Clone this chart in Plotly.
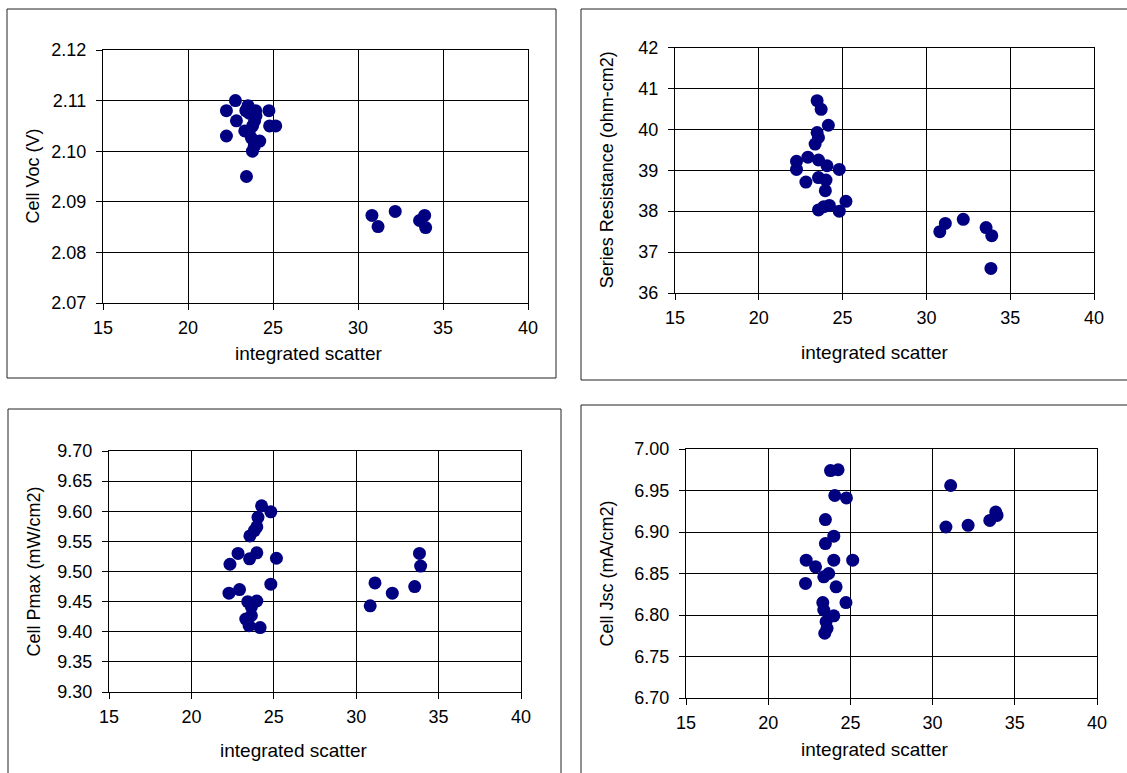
import plotly.graph_objects as go

W, H = 1127, 773

# ---- data ----
voc_x = [22.26, 22.79, 23.53, 23.40, 23.60, 23.98, 24.76, 22.85, 23.34, 23.92, 23.80,
         24.80, 25.16, 22.26, 23.73, 24.22, 23.79, 23.44, 24.00, 23.60, 23.90,
         30.82, 31.18, 32.19, 33.62, 33.92, 33.98]
voc_y = [2.108, 2.110, 2.109, 2.108, 2.1075, 2.108, 2.108, 2.106, 2.104, 2.106, 2.105,
         2.105, 2.105, 2.103, 2.1026, 2.102, 2.100, 2.095, 2.107, 2.104, 2.101,
         2.0873, 2.0851, 2.0881, 2.0863, 2.0873, 2.0849]

rs_x = [23.48, 23.72, 24.15, 23.48, 23.56, 23.36, 22.25, 22.93, 23.56, 24.07, 22.25,
        24.80, 22.81, 23.56, 24.01, 23.97, 23.56, 24.21, 23.88, 24.80, 25.20,
        31.13, 30.80, 32.20, 33.56, 33.90, 33.85]
rs_y = [40.70, 40.49, 40.10, 39.92, 39.80, 39.64, 39.22, 39.32, 39.25, 39.11, 39.02,
        39.02, 38.71, 38.82, 38.76, 38.50, 38.03, 38.14, 38.11, 38.00, 38.24,
        37.70, 37.50, 37.80, 37.60, 37.40, 36.60]

pmax_x = [24.26, 24.82, 24.04, 23.97, 23.82, 23.55, 22.83, 23.97, 23.53, 25.16, 22.34,
          24.82, 22.28, 22.92, 23.42, 23.97, 23.64, 23.64, 23.30, 23.50, 24.17,
          30.85, 31.14, 32.19, 33.55, 33.84, 33.91]
pmax_y = [9.609, 9.599, 9.590, 9.574, 9.568, 9.559, 9.530, 9.531, 9.521, 9.522, 9.512,
          9.479, 9.464, 9.470, 9.450, 9.451, 9.441, 9.427, 9.421, 9.410, 9.407,
          9.443, 9.481, 9.464, 9.475, 9.530, 9.509]

jsc_x = [23.79, 24.25, 24.05, 24.76, 23.48, 23.99, 23.48, 22.31, 22.88, 23.99, 25.14,
         23.68, 23.38, 22.27, 24.13, 23.32, 24.73, 23.38, 23.99, 23.52, 23.58, 23.44,
         31.10, 30.81, 32.16, 33.48, 33.84, 33.92]
jsc_y = [6.974, 6.975, 6.944, 6.941, 6.915, 6.895, 6.886, 6.866, 6.858, 6.866, 6.866,
         6.850, 6.846, 6.838, 6.834, 6.815, 6.815, 6.806, 6.799, 6.792, 6.784, 6.778,
         6.956, 6.906, 6.908, 6.914, 6.924, 6.920]

x_label = "integrated scatter"
x_ticks = [15, 20, 25, 30, 35, 40]

panels = [
    dict(x=voc_x, y=voc_y, title="Cell Voc (V)", yr=[2.07, 2.12], dt=0.01, fmt=".2f",
         box=(103, 528, 50, 303), outer=(7, 9, 556, 378), ytx=33, xt=(308, 353)),
    dict(x=rs_x, y=rs_y, title="Series Resistance (ohm-cm2)", yr=[36, 42], dt=1, fmt="d",
         box=(675, 1094, 47.5, 293), outer=(581, 9, 1135, 380), ytx=607, xt=(874, 352)),
    dict(x=pmax_x, y=pmax_y, title="Cell Pmax (mW/cm2)", yr=[9.30, 9.70], dt=0.05, fmt=".2f",
         box=(109, 521, 451, 692), outer=(8, 409, 561, 780), ytx=33, xt=(293, 750)),
    dict(x=jsc_x, y=jsc_y, title="Cell Jsc (mA/cm2)", yr=[6.70, 7.00], dt=0.05, fmt=".2f",
         box=(686, 1097, 449, 698), outer=(581, 405, 1135, 780), ytx=606, xt=(874, 749)),
]

FONT = "Liberation Sans, Arial, sans-serif"
fig = go.Figure()
shapes = []
annotations = []

for i, p in enumerate(panels, start=1):
    xa = "x" if i == 1 else f"x{i}"
    ya = "y" if i == 1 else f"y{i}"
    fig.add_trace(go.Scatter(
        x=p["x"], y=p["y"], mode="markers", xaxis=xa, yaxis=ya,
        marker=dict(color="#000080", size=13, line=dict(width=0)),
        showlegend=False, cliponaxis=False))
    x0, x1, y0, y1 = p["box"]
    axis_common = dict(
        showline=True, linecolor="#000000", linewidth=1, mirror=True,
        showgrid=True, gridcolor="#000000", gridwidth=1,
        ticks="outside", ticklen=6, tickcolor="#000000", tickwidth=1,
        tickfont=dict(family=FONT, size=18, color="#000000"),
        zeroline=False, fixedrange=True, automargin=False)
    xkey = "xaxis" if i == 1 else f"xaxis{i}"
    ykey = "yaxis" if i == 1 else f"yaxis{i}"
    fig.update_layout(**{
        xkey: dict(domain=[x0 / W, x1 / W], range=[15, 40], tickvals=x_ticks,
                   anchor=ya, ticklabelstandoff=2, **axis_common),
        ykey: dict(domain=[1 - y1 / H, 1 - y0 / H], range=p["yr"], dtick=p["dt"],
                   tick0=p["yr"][0], tickformat=p["fmt"], anchor=xa,
                   ticklabelstandoff=6, **axis_common),
    })
    ox0, oy0, ox1, oy1 = p["outer"]
    shapes.append(dict(type="rect", xref="paper", yref="paper",
                       x0=ox0 / W, x1=ox1 / W, y0=1 - oy1 / H, y1=1 - oy0 / H,
                       line=dict(color="#222222", width=1), fillcolor="rgba(0,0,0,0)",
                       layer="below"))
    annotations.append(dict(text=p["title"], xref="paper", yref="paper",
                            x=p["ytx"] / W, y=1 - ((y0 + y1) / 2) / H, textangle=-90,
                            showarrow=False, xanchor="center", yanchor="middle",
                            font=dict(family=FONT, size=18, color="#000000")))
    annotations.append(dict(text=x_label, xref="paper", yref="paper",
                            x=p["xt"][0] / W, y=1 - p["xt"][1] / H,
                            showarrow=False, xanchor="center", yanchor="middle",
                            font=dict(family=FONT, size=19, color="#000000")))

fig.update_layout(width=W, height=H,
                  margin=dict(l=0, r=0, t=0, b=0, pad=0, autoexpand=False),
                  paper_bgcolor="white", plot_bgcolor="white",
                  shapes=shapes, annotations=annotations)

fig.write_html("out.html",
               post_script="document.body.style.margin='0px';"
                           "document.documentElement.style.overflow='hidden';"
                           "document.body.style.overflow='hidden';")
